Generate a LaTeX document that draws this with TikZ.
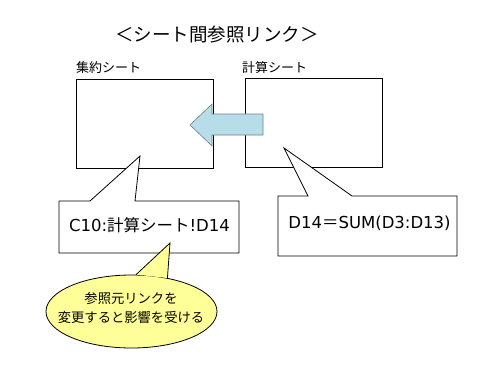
\documentclass[tikz,border=0pt]{standalone}
\usepackage{fontspec}
\setmainfont{Noto Sans CJK JP}
\newfontfamily\latinfont{DejaVu Sans}
\usepackage{xcolor}
\usetikzlibrary{shapes.geometric}
\definecolor{arrowcyan}{HTML}{B7DEE8}
\definecolor{arrowgray}{HTML}{6F8087}
\definecolor{noteyellow}{HTML}{FFFF99}

\begin{document}
\begin{tikzpicture}[x=1pt, y=-1pt,
    sheetbox/.style={draw, black, line width=0.9pt, minimum width=137pt, minimum height=89pt, inner sep=0pt, anchor=north west},
    sheettag/.style={font=\fontsize{13}{15}\selectfont, inner sep=0pt, anchor=west},
    bubble/.style={draw, black, line width=0.8pt, fill=white},
    bubbletext/.style={font=\fontsize{16.5}{19}\selectfont, inner sep=0pt}]
\useasboundingbox (0,0) rectangle (490,378);

        % Title
        \node[font=\fontsize{18.5}{22}\selectfont, inner sep=0pt] (title) at (217,35) {＜シート間参照リンク＞};

        % Two sheets
        \node[sheetbox] (S1) at (76,79) {};
        \node[sheetbox] (S2) at (245,78) {};
        \node[sheettag] (S1tag) at (76,68) {集約シート};
        \node[sheettag] (S2tag) at (242,68) {計算シート};

        % Define points of the big arrow
        \coordinate (P1) at (190,125);       % tip
        \coordinate (P2) at (212,104);       % head top
        \coordinate (P3) at (212,114);
        \coordinate (P4) at (263,114);       % tail top
        \coordinate (P5) at (263,135);       % tail bottom
        \coordinate (P6) at (212,135);
        \coordinate (P7) at (212,146);       % head bottom

        % Draw the big arrow
        \filldraw[fill=arrowcyan, draw=arrowgray, line width=0.6pt] (P1) -- (P2) -- (P3) -- (P4) -- (P5) -- (P6) -- (P7) -- cycle;

        % Define points of the left bubble
        \coordinate (L1) at (59,201);
        \coordinate (L2) at (90,201);
        \coordinate (L3) at (140,156);       % pointer tip
        \coordinate (L4) at (135,201);
        \coordinate (L5) at (239,201);
        \coordinate (L6) at (239,253);
        \coordinate (L7) at (59,253);

        % Define points of the right bubble
        \coordinate (R1) at (278,196);
        \coordinate (R2) at (308,196);
        \coordinate (R3) at (284,148);       % pointer tip
        \coordinate (R4) at (352,196);
        \coordinate (R5) at (457,196);
        \coordinate (R6) at (457,256);
        \coordinate (R7) at (278,256);

        % Draw the bubbles
        \draw[bubble] (L1) -- (L2) -- (L3) -- (L4) -- (L5) -- (L6) -- (L7) -- cycle;
        \draw[bubble] (R1) -- (R2) -- (R3) -- (R4) -- (R5) -- (R6) -- (R7) -- cycle;
        \node[bubbletext] (Ltext) at (149.5,225) {{\latinfont C10:}計算シート{\latinfont !D14}};
        \node[bubbletext] (Rtext) at (369.5,223) {{\latinfont D14}＝{\latinfont SUM(D3:D13)}};

        % Yellow note
        \node[draw, black, line width=0.8pt, fill=noteyellow, ellipse, minimum width=171pt, minimum height=73pt, inner sep=0pt] (N) at (131.5,311.5) {};
        \coordinate (N1) at (170,243);       % pointer tip
        \filldraw[fill=noteyellow, draw=black, line width=0.8pt] (N.83) -- (N1) -- (N.43);
        \node[font=\fontsize{13.3}{19}\selectfont, align=center, inner sep=0pt] (Ntext) at (131,307.5) {参照元リンクを\\変更すると影響を受ける};
\end{tikzpicture}
\end{document}
